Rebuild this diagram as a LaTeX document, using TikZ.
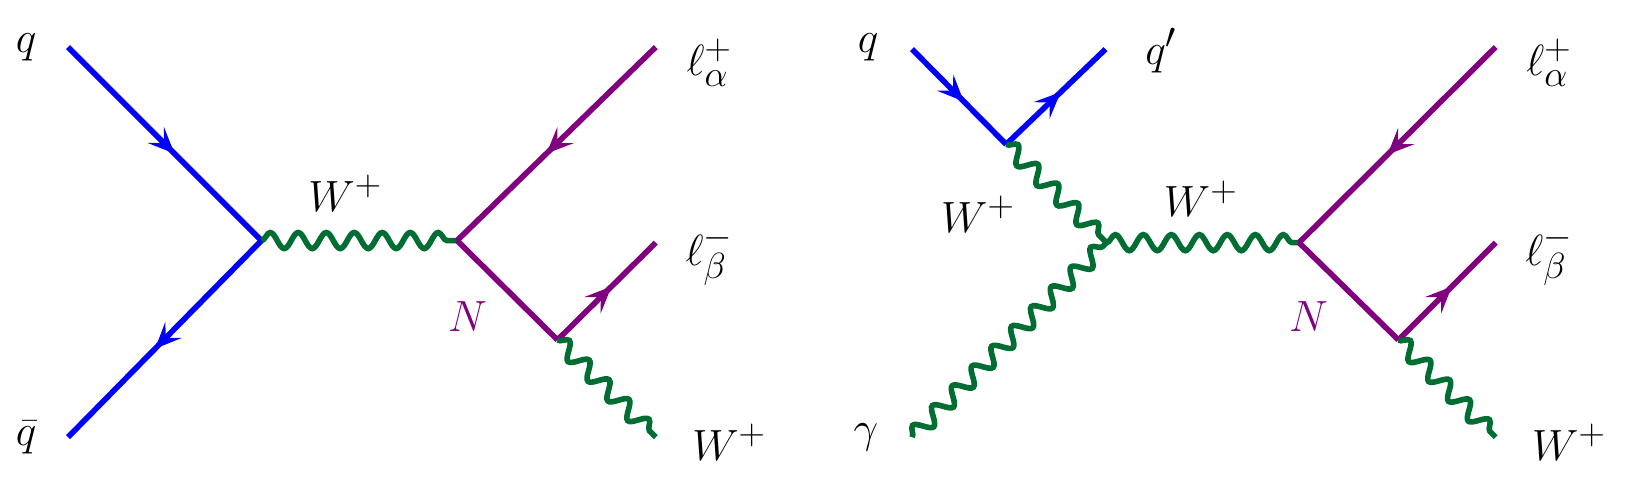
\documentclass[tikz,border=0pt]{standalone}
\usetikzlibrary{decorations.markings,decorations.pathmorphing,arrows.meta}
\definecolor{fb}{RGB}{0,0,255}
\definecolor{fp}{RGB}{128,0,128}
\definecolor{fg}{RGB}{0,110,50}
\begin{document}
\begin{tikzpicture}[x=0.02092cm,y=-0.02092cm,
 fer/.style={line width=3.2pt,postaction={decorate},decoration={markings,mark=at position 0.55 with {\arrow{Stealth[length=15pt,width=13pt,inset=6.5pt]}}}},
 bos/.style={line width=3.2pt,fg,decorate,decoration={snake,segment length=0.56cm,amplitude=0.16cm}},
 lab/.style={font=\fontsize{30}{34}\selectfont}]
% left
\coordinate (q1) at (65,45); \coordinate (qb1) at (65,418);
\coordinate (v1) at (250,230); \coordinate (n1) at (437,230);
\coordinate (m1) at (533,325); \coordinate (la1) at (627,45);
\coordinate (lb1) at (627,232); \coordinate (w1) at (627,418);
\draw[fer,fb] (q1) -- (v1);
\draw[fer,fb] (v1) -- (qb1);
\draw[bos] (v1) -- (n1);
\draw[fer,fp] (la1) -- (n1);
\draw[line width=3.2pt,fp] (n1) -- (m1);
\draw[fer,fp] (m1) -- (lb1);
\draw[bos] (m1) -- (w1);
\node[lab] (tq1) at (25,45) {$q$};
\node[lab] (tqb1) at (25,418) {$\bar q$};
\node[lab] (tw1) at (330,185) {$W^+$};
\node[lab,fp] (tn1) at (447,303) {$N$};
\node[lab] (tla1) at (678,60) {$\ell_\alpha^+$};
\node[lab] (tlb1) at (678,245) {$\ell_\beta^-$};
\node[lab] (tww1) at (697,423) {$W^+$};
% right
\coordinate (q2) at (872,47); \coordinate (v2) at (962,138);
\coordinate (qp2) at (1057,47); \coordinate (c2) at (1058,232);
\coordinate (g2) at (872,418); \coordinate (n2) at (1242,232);
\coordinate (m2) at (1337,325); \coordinate (la2) at (1430,45);
\coordinate (lb2) at (1430,232); \coordinate (w2) at (1430,418);
\draw[fer,fb] (q2) -- (v2);
\draw[fer,fb] (v2) -- (qp2);
\draw[bos] (v2) -- (c2);
\draw[bos] (g2) -- (c2);
\draw[bos] (c2) -- (n2);
\draw[fer,fp] (la2) -- (n2);
\draw[line width=3.2pt,fp] (n2) -- (m2);
\draw[fer,fp] (m2) -- (lb2);
\draw[bos] (m2) -- (w2);
\node[lab] (tq2) at (830,45) {$q$};
\node[lab] (tqp2) at (1110,48) {$q'$};
\node[lab] (tg2) at (828,418) {$\gamma$};
\node[lab] (tw2a) at (935,205) {$W^+$};
\node[lab] (tw2b) at (1148,190) {$W^+$};
\node[lab,fp] (tn2) at (1251,303) {$N$};
\node[lab] (tla2) at (1481,60) {$\ell_\alpha^+$};
\node[lab] (tlb2) at (1481,245) {$\ell_\beta^-$};
\node[lab] (tww2) at (1500,423) {$W^+$};
\pgfresetboundingbox
\useasboundingbox (0,0) rectangle (1568,469.4);
\end{tikzpicture}
\end{document}
